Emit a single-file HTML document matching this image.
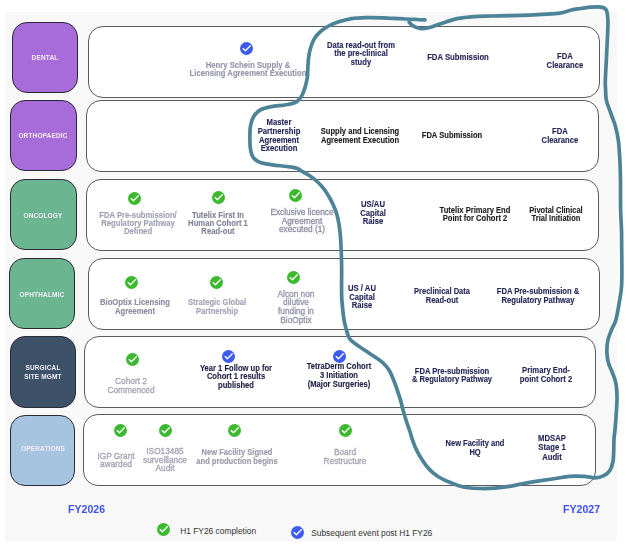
<!DOCTYPE html>
<html><head><meta charset="utf-8"><style>
html,body{margin:0;padding:0;background:#fff;width:631px;height:544px;overflow:hidden}
body{position:relative;font-family:"Liberation Sans", sans-serif}
.bg{position:absolute;left:4.5px;top:11.8px;width:612.5px;height:529.3px;background:#f8f8f8}
.cat{position:absolute;border:0.8px solid #2a2a35;border-radius:15px}
.catl{position:absolute;width:80px;text-align:center;color:#f4eef8;font-size:6.5px;font-weight:bold;letter-spacing:0.15px;white-space:nowrap;transform:scaleY(1.1);will-change:transform}
.box{position:absolute;background:#fff;border:1.5px solid #5a5a5a;border-radius:15px}
.t{position:absolute;width:160px;height:10px;line-height:10px;text-align:center;white-space:nowrap;transform:scaleY(1.15);transform-origin:50% 50%;will-change:transform;-webkit-text-stroke:0.12px currentColor}
.ck{position:absolute}
.fy{position:absolute;color:#3d52f0;font-weight:bold;font-size:10.6px;line-height:13px;white-space:nowrap;transform:scaleY(1.08);transform-origin:0 50%;will-change:transform}
.lg{position:absolute;color:#333;font-size:8.4px;line-height:10px;white-space:nowrap}
</style></head><body>
<div class="bg"></div>
<div class="cat" style="left:12.4px;top:21.8px;width:63.8px;height:69.1px;background:#a86bda"></div>
<div class="catl" style="left:5.1px;top:53.8px;line-height:7.5px">DENTAL</div>
<div class="cat" style="left:10.2px;top:100.2px;width:64.7px;height:68.8px;background:#a86bda"></div>
<div class="catl" style="left:3.4px;top:132.2px;line-height:7.5px">ORTHOPAEDIC</div>
<div class="cat" style="left:10.2px;top:179.2px;width:64.7px;height:68.8px;background:#6bb690"></div>
<div class="catl" style="left:3.4px;top:212.2px;line-height:7.5px">ONCOLOGY</div>
<div class="cat" style="left:8.6px;top:258.2px;width:64.3px;height:68.8px;background:#6bb690"></div>
<div class="catl" style="left:1.5px;top:290.6px;line-height:7.5px">OPHTHALMIC</div>
<div class="cat" style="left:10.3px;top:336.4px;width:63.5px;height:69.5px;background:#3d5269"></div>
<div class="catl" style="left:2.9px;top:364.0px;line-height:7.5px">SURGICAL<br>SITE MGMT</div>
<div class="cat" style="left:10.2px;top:415.2px;width:63.1px;height:69.2px;background:#a6c3e0"></div>
<div class="catl" style="left:2.6px;top:444.9px;line-height:7.5px">OPERATIONS</div>
<div class="box" style="left:87.5px;top:26.3px;width:510.6px;height:69.5px"></div>
<div class="box" style="left:86.0px;top:100.3px;width:510.8px;height:69.8px"></div>
<div class="box" style="left:86.0px;top:179.2px;width:510.8px;height:70.0px"></div>
<div class="box" style="left:88.0px;top:258.3px;width:510.1px;height:70.0px"></div>
<div class="box" style="left:83.6px;top:336.3px;width:510.7px;height:69.4px"></div>
<div class="box" style="left:83.3px;top:414.4px;width:511.2px;height:69.7px"></div>
<svg class="ck" style="left:239.50px;top:41.60px" width="13.0" height="13.0" viewBox="-6.5 -6.5 13 13"><circle r="6.5" fill="#3d5bf0"/><path d="M-3.3 0.1 L-1.1 2.3 L3.8 -2.7" fill="none" stroke="#fff" stroke-width="1.35" stroke-linecap="round" stroke-linejoin="round"/></svg>
<div class="t" style="left:168.0px;top:61px;color:#9696ac;font-weight:bold;font-size:7.7px;-webkit-text-stroke:0.14px currentColor">Henry Schein Supply &amp;</div>
<div class="t" style="left:168.0px;top:69px;color:#9696ac;font-weight:bold;font-size:7.7px;-webkit-text-stroke:0.14px currentColor">Licensing Agreement Execution</div>
<div class="t" style="left:280.8px;top:41px;color:#26285a;font-weight:bold;font-size:7.6px">Data read-out from</div>
<div class="t" style="left:280.8px;top:49px;color:#26285a;font-weight:bold;font-size:7.6px">the pre-clinical</div>
<div class="t" style="left:280.8px;top:58px;color:#26285a;font-weight:bold;font-size:7.6px">study</div>
<div class="t" style="left:378.0px;top:53px;color:#26285a;font-weight:bold;font-size:7.75px">FDA Submission</div>
<div class="t" style="left:484.8px;top:52px;color:#26285a;font-weight:bold;font-size:7.7px">FDA</div>
<div class="t" style="left:484.8px;top:61px;color:#26285a;font-weight:bold;font-size:7.7px">Clearance</div>
<div class="t" style="left:199.0px;top:118px;color:#26285a;font-weight:bold;font-size:7.7px">Master</div>
<div class="t" style="left:199.0px;top:127px;color:#26285a;font-weight:bold;font-size:7.7px">Partnership</div>
<div class="t" style="left:199.0px;top:136px;color:#26285a;font-weight:bold;font-size:7.7px">Agreement</div>
<div class="t" style="left:199.0px;top:144px;color:#26285a;font-weight:bold;font-size:7.7px">Execution</div>
<div class="t" style="left:279.5px;top:127px;color:#222226;font-weight:bold;font-size:7.6px">Supply and Licensing</div>
<div class="t" style="left:279.5px;top:136px;color:#222226;font-weight:bold;font-size:7.6px">Agreement Execution</div>
<div class="t" style="left:371.5px;top:131px;color:#222226;font-weight:bold;font-size:7.6px">FDA Submission</div>
<div class="t" style="left:479.8px;top:127px;color:#26285a;font-weight:bold;font-size:7.7px">FDA</div>
<div class="t" style="left:479.8px;top:136px;color:#26285a;font-weight:bold;font-size:7.7px">Clearance</div>
<svg class="ck" style="left:128.35px;top:191.80px" width="13.0" height="13.0" viewBox="-6.5 -6.5 13 13"><circle r="6.5" fill="#3cb92f"/><path d="M-3.3 0.1 L-1.1 2.3 L3.8 -2.7" fill="none" stroke="#fff" stroke-width="1.35" stroke-linecap="round" stroke-linejoin="round"/></svg>
<div class="t" style="left:57.7px;top:211px;color:#a2a2b6;font-weight:bold;font-size:7.7px;-webkit-text-stroke:0.14px currentColor">FDA Pre-submission/</div>
<div class="t" style="left:57.7px;top:219px;color:#a2a2b6;font-weight:bold;font-size:7.7px;-webkit-text-stroke:0.14px currentColor">Regulatory Pathway</div>
<div class="t" style="left:57.7px;top:227px;color:#a2a2b6;font-weight:bold;font-size:7.7px;-webkit-text-stroke:0.14px currentColor">Defined</div>
<svg class="ck" style="left:212.30px;top:191.40px" width="13.0" height="13.0" viewBox="-6.5 -6.5 13 13"><circle r="6.5" fill="#3cb92f"/><path d="M-3.3 0.1 L-1.1 2.3 L3.8 -2.7" fill="none" stroke="#fff" stroke-width="1.35" stroke-linecap="round" stroke-linejoin="round"/></svg>
<div class="t" style="left:138.0px;top:211px;color:#84849a;font-weight:bold;font-size:7.7px;-webkit-text-stroke:0.14px currentColor">Tutelix First In</div>
<div class="t" style="left:138.0px;top:219px;color:#84849a;font-weight:bold;font-size:7.7px;-webkit-text-stroke:0.14px currentColor">Human Cohort 1</div>
<div class="t" style="left:138.0px;top:227px;color:#84849a;font-weight:bold;font-size:7.7px;-webkit-text-stroke:0.14px currentColor">Read-out</div>
<svg class="ck" style="left:289.10px;top:188.80px" width="13.0" height="13.0" viewBox="-6.5 -6.5 13 13"><circle r="6.5" fill="#3cb92f"/><path d="M-3.3 0.1 L-1.1 2.3 L3.8 -2.7" fill="none" stroke="#fff" stroke-width="1.35" stroke-linecap="round" stroke-linejoin="round"/></svg>
<div class="t" style="left:221.5px;top:207px;color:#8e8ea4;font-weight:normal;font-size:8.3px;-webkit-text-stroke:0.3px currentColor">Exclusive licence</div>
<div class="t" style="left:221.5px;top:216px;color:#8e8ea4;font-weight:normal;font-size:8.3px;-webkit-text-stroke:0.3px currentColor">Agreement</div>
<div class="t" style="left:221.5px;top:224px;color:#8e8ea4;font-weight:normal;font-size:8.3px;-webkit-text-stroke:0.3px currentColor">executed (1)</div>
<div class="t" style="left:292.5px;top:200px;color:#26285a;font-weight:bold;font-size:7.7px">US/AU</div>
<div class="t" style="left:292.5px;top:209px;color:#26285a;font-weight:bold;font-size:7.7px">Capital</div>
<div class="t" style="left:292.5px;top:217px;color:#26285a;font-weight:bold;font-size:7.7px">Raise</div>
<div class="t" style="left:394.6px;top:206px;color:#222226;font-weight:bold;font-size:7.6px">Tutelix Primary End</div>
<div class="t" style="left:394.6px;top:214px;color:#222226;font-weight:bold;font-size:7.6px">Point for Cohort 2</div>
<div class="t" style="left:476.2px;top:206px;color:#222226;font-weight:bold;font-size:7.5px">Pivotal Clinical</div>
<div class="t" style="left:476.2px;top:214px;color:#222226;font-weight:bold;font-size:7.5px">Trial Initiation</div>
<svg class="ck" style="left:125.30px;top:276.40px" width="13.0" height="13.0" viewBox="-6.5 -6.5 13 13"><circle r="6.5" fill="#3cb92f"/><path d="M-3.3 0.1 L-1.1 2.3 L3.8 -2.7" fill="none" stroke="#fff" stroke-width="1.35" stroke-linecap="round" stroke-linejoin="round"/></svg>
<div class="t" style="left:54.9px;top:298px;color:#8c8ca2;font-weight:bold;font-size:7.7px;-webkit-text-stroke:0.14px currentColor">BioOptix Licensing</div>
<div class="t" style="left:54.9px;top:307px;color:#8c8ca2;font-weight:bold;font-size:7.7px;-webkit-text-stroke:0.14px currentColor">Agreement</div>
<svg class="ck" style="left:209.50px;top:276.40px" width="13.0" height="13.0" viewBox="-6.5 -6.5 13 13"><circle r="6.5" fill="#3cb92f"/><path d="M-3.3 0.1 L-1.1 2.3 L3.8 -2.7" fill="none" stroke="#fff" stroke-width="1.35" stroke-linecap="round" stroke-linejoin="round"/></svg>
<div class="t" style="left:137.3px;top:298px;color:#a4a4b8;font-weight:bold;font-size:7.6px;-webkit-text-stroke:0.14px currentColor">Strategic Global</div>
<div class="t" style="left:137.3px;top:307px;color:#a4a4b8;font-weight:bold;font-size:7.6px;-webkit-text-stroke:0.14px currentColor">Partnership</div>
<svg class="ck" style="left:286.60px;top:271.40px" width="13.0" height="13.0" viewBox="-6.5 -6.5 13 13"><circle r="6.5" fill="#3cb92f"/><path d="M-3.3 0.1 L-1.1 2.3 L3.8 -2.7" fill="none" stroke="#fff" stroke-width="1.35" stroke-linecap="round" stroke-linejoin="round"/></svg>
<div class="t" style="left:216.4px;top:289px;color:#9494aa;font-weight:normal;font-size:8.3px;-webkit-text-stroke:0.3px currentColor">Alcon non</div>
<div class="t" style="left:216.4px;top:297px;color:#9494aa;font-weight:normal;font-size:8.3px;-webkit-text-stroke:0.3px currentColor">dilutive</div>
<div class="t" style="left:216.4px;top:306px;color:#9494aa;font-weight:normal;font-size:8.3px;-webkit-text-stroke:0.3px currentColor">funding in</div>
<div class="t" style="left:216.4px;top:315px;color:#9494aa;font-weight:normal;font-size:8.3px;-webkit-text-stroke:0.3px currentColor">BioOptix</div>
<div class="t" style="left:281.6px;top:284px;color:#26285a;font-weight:bold;font-size:7.7px">US / AU</div>
<div class="t" style="left:281.6px;top:293px;color:#26285a;font-weight:bold;font-size:7.7px">Capital</div>
<div class="t" style="left:281.6px;top:301px;color:#26285a;font-weight:bold;font-size:7.7px">Raise</div>
<div class="t" style="left:362.0px;top:287px;color:#26285a;font-weight:bold;font-size:7.5px">Preclinical Data</div>
<div class="t" style="left:362.0px;top:296px;color:#26285a;font-weight:bold;font-size:7.5px">Read-out</div>
<div class="t" style="left:457.9px;top:287px;color:#26285a;font-weight:bold;font-size:7.65px">FDA Pre-submission &amp;</div>
<div class="t" style="left:457.9px;top:296px;color:#26285a;font-weight:bold;font-size:7.65px">Regulatory Pathway</div>
<svg class="ck" style="left:126.10px;top:353.20px" width="13.0" height="13.0" viewBox="-6.5 -6.5 13 13"><circle r="6.5" fill="#3cb92f"/><path d="M-3.3 0.1 L-1.1 2.3 L3.8 -2.7" fill="none" stroke="#fff" stroke-width="1.35" stroke-linecap="round" stroke-linejoin="round"/></svg>
<div class="t" style="left:51.3px;top:376px;color:#a6a6b6;font-weight:normal;font-size:8.3px;-webkit-text-stroke:0.3px currentColor">Cohort 2</div>
<div class="t" style="left:51.3px;top:385px;color:#a6a6b6;font-weight:normal;font-size:8.3px;-webkit-text-stroke:0.3px currentColor">Commenced</div>
<svg class="ck" style="left:221.50px;top:350.10px" width="13.0" height="13.0" viewBox="-6.5 -6.5 13 13"><circle r="6.5" fill="#3d5bf0"/><path d="M-3.3 0.1 L-1.1 2.3 L3.8 -2.7" fill="none" stroke="#fff" stroke-width="1.35" stroke-linecap="round" stroke-linejoin="round"/></svg>
<div class="t" style="left:156.0px;top:364px;color:#1f2045;font-weight:bold;font-size:7.6px">Year 1 Follow up for</div>
<div class="t" style="left:156.0px;top:372px;color:#1f2045;font-weight:bold;font-size:7.6px">Cohort 1 results</div>
<div class="t" style="left:156.0px;top:381px;color:#1f2045;font-weight:bold;font-size:7.6px">published</div>
<svg class="ck" style="left:333.00px;top:349.90px" width="13.0" height="13.0" viewBox="-6.5 -6.5 13 13"><circle r="6.5" fill="#3d5bf0"/><path d="M-3.3 0.1 L-1.1 2.3 L3.8 -2.7" fill="none" stroke="#fff" stroke-width="1.35" stroke-linecap="round" stroke-linejoin="round"/></svg>
<div class="t" style="left:258.6px;top:362px;color:#1f2045;font-weight:bold;font-size:7.6px">TetraDerm Cohort</div>
<div class="t" style="left:258.6px;top:371px;color:#1f2045;font-weight:bold;font-size:7.6px">3 Initiation</div>
<div class="t" style="left:258.6px;top:380px;color:#1f2045;font-weight:bold;font-size:7.6px">(Major Surgeries)</div>
<div class="t" style="left:372.0px;top:367px;color:#26285a;font-weight:bold;font-size:7.6px">FDA Pre-submission</div>
<div class="t" style="left:372.0px;top:375px;color:#26285a;font-weight:bold;font-size:7.6px">&amp; Regulatory Pathway</div>
<div class="t" style="left:465.8px;top:366px;color:#26285a;font-weight:bold;font-size:7.7px">Primary End-</div>
<div class="t" style="left:465.8px;top:375px;color:#26285a;font-weight:bold;font-size:7.7px">point Cohort 2</div>
<svg class="ck" style="left:114.00px;top:423.90px" width="13.0" height="13.0" viewBox="-6.5 -6.5 13 13"><circle r="6.5" fill="#3cb92f"/><path d="M-3.3 0.1 L-1.1 2.3 L3.8 -2.7" fill="none" stroke="#fff" stroke-width="1.35" stroke-linecap="round" stroke-linejoin="round"/></svg>
<div class="t" style="left:36.0px;top:451px;color:#a4a4b6;font-weight:normal;font-size:8.3px;-webkit-text-stroke:0.3px currentColor">IGP Grant</div>
<div class="t" style="left:36.0px;top:459px;color:#a4a4b6;font-weight:normal;font-size:8.3px;-webkit-text-stroke:0.3px currentColor">awarded</div>
<svg class="ck" style="left:158.90px;top:423.90px" width="13.0" height="13.0" viewBox="-6.5 -6.5 13 13"><circle r="6.5" fill="#3cb92f"/><path d="M-3.3 0.1 L-1.1 2.3 L3.8 -2.7" fill="none" stroke="#fff" stroke-width="1.35" stroke-linecap="round" stroke-linejoin="round"/></svg>
<div class="t" style="left:84.9px;top:446px;color:#a4a4b6;font-weight:normal;font-size:8.3px;-webkit-text-stroke:0.3px currentColor">ISO13485</div>
<div class="t" style="left:84.9px;top:455px;color:#a4a4b6;font-weight:normal;font-size:8.3px;-webkit-text-stroke:0.3px currentColor">surveillance</div>
<div class="t" style="left:84.9px;top:463px;color:#a4a4b6;font-weight:normal;font-size:8.3px;-webkit-text-stroke:0.3px currentColor">Audit</div>
<svg class="ck" style="left:227.50px;top:424.10px" width="13.0" height="13.0" viewBox="-6.5 -6.5 13 13"><circle r="6.5" fill="#3cb92f"/><path d="M-3.3 0.1 L-1.1 2.3 L3.8 -2.7" fill="none" stroke="#fff" stroke-width="1.35" stroke-linecap="round" stroke-linejoin="round"/></svg>
<div class="t" style="left:157.0px;top:448px;color:#9a9aac;font-weight:bold;font-size:7.55px;-webkit-text-stroke:0.14px currentColor">New Facility Signed</div>
<div class="t" style="left:157.0px;top:457px;color:#9a9aac;font-weight:bold;font-size:7.55px;-webkit-text-stroke:0.14px currentColor">and production begins</div>
<svg class="ck" style="left:339.10px;top:424.20px" width="13.0" height="13.0" viewBox="-6.5 -6.5 13 13"><circle r="6.5" fill="#3cb92f"/><path d="M-3.3 0.1 L-1.1 2.3 L3.8 -2.7" fill="none" stroke="#fff" stroke-width="1.35" stroke-linecap="round" stroke-linejoin="round"/></svg>
<div class="t" style="left:265.0px;top:447px;color:#a4a4b6;font-weight:normal;font-size:8.3px;-webkit-text-stroke:0.3px currentColor">Board</div>
<div class="t" style="left:265.0px;top:456px;color:#a4a4b6;font-weight:normal;font-size:8.3px;-webkit-text-stroke:0.3px currentColor">Restructure</div>
<div class="t" style="left:395.0px;top:439px;color:#26285a;font-weight:bold;font-size:7.5px">New Facility and</div>
<div class="t" style="left:395.0px;top:448px;color:#26285a;font-weight:bold;font-size:7.5px">HQ</div>
<div class="t" style="left:471.8px;top:434px;color:#26285a;font-weight:bold;font-size:7.7px">MDSAP</div>
<div class="t" style="left:471.8px;top:443px;color:#26285a;font-weight:bold;font-size:7.7px">Stage 1</div>
<div class="t" style="left:471.8px;top:453px;color:#26285a;font-weight:bold;font-size:7.7px">Audit</div>
<div class="fy" style="left:68.2px;top:503px">FY2026</div>
<div class="fy" style="left:563px;top:503px">FY2027</div>
<svg class="ck" style="left:156.90px;top:523.10px" width="13.0" height="13.0" viewBox="-6.5 -6.5 13 13"><circle r="6.5" fill="#3cb92f"/><path d="M-3.3 0.1 L-1.1 2.3 L3.8 -2.7" fill="none" stroke="#fff" stroke-width="1.35" stroke-linecap="round" stroke-linejoin="round"/></svg>
<div class="lg" style="left:180.2px;top:526px">H1 FY26 completion</div>
<svg class="ck" style="left:291.10px;top:525.50px" width="13.0" height="13.0" viewBox="-6.5 -6.5 13 13"><circle r="6.5" fill="#3d5bf0"/><path d="M-3.3 0.1 L-1.1 2.3 L3.8 -2.7" fill="none" stroke="#fff" stroke-width="1.35" stroke-linecap="round" stroke-linejoin="round"/></svg>
<div class="lg" style="left:311.2px;top:527.5px">Subsequent event post H1 FY26</div>
<svg style="position:absolute;left:0;top:0" width="631" height="544"><path d="M425.0 19.8 C423.7 19.8 421.2 19.7 417.0 19.5 C412.8 19.3 405.6 19.0 399.9 18.7 C394.2 18.4 388.5 18.0 382.8 17.8 C377.1 17.6 370.9 17.5 365.7 17.6 C360.5 17.7 355.8 17.9 351.4 18.6 C347.0 19.3 343.4 20.4 339.6 21.6 C335.8 22.8 331.9 24.2 328.6 26.0 C325.3 27.8 322.3 29.8 319.8 32.1 C317.3 34.4 315.3 37.0 313.7 39.8 C312.1 42.5 311.3 45.5 310.4 48.6 C309.5 51.7 308.9 55.1 308.5 58.5 C308.1 61.9 308.0 65.6 307.8 68.8 C307.6 72.0 307.7 74.6 307.3 77.6 C306.9 80.5 306.2 83.5 305.3 86.5 C304.4 89.5 303.5 92.7 302.0 95.3 C300.5 97.9 299.2 100.3 296.5 101.9 C293.8 103.5 290.2 104.0 286.0 104.8 C281.8 105.6 275.7 105.8 271.4 106.6 C267.1 107.4 263.3 108.2 260.4 109.9 C257.4 111.6 255.4 113.7 253.7 116.5 C252.0 119.3 251.0 123.0 250.4 126.5 C249.8 130.0 249.9 133.8 249.9 137.5 C249.9 141.2 249.9 145.2 250.4 148.5 C250.9 151.8 251.5 155.1 253.2 157.4 C254.9 159.8 257.2 161.3 260.4 162.6 C263.6 163.8 268.2 164.2 272.6 164.9 C277.0 165.6 282.9 165.9 286.9 166.5 C290.9 167.1 294.4 167.4 296.8 168.2 C299.2 169.0 299.5 169.9 301.6 171.1 C303.7 172.3 306.7 173.8 309.3 175.5 C311.9 177.2 314.7 179.3 317.1 181.5 C319.5 183.7 321.7 186.1 323.7 188.7 C325.7 191.3 327.5 194.2 329.2 197.0 C330.9 199.8 332.3 202.9 333.6 205.8 C334.9 208.7 336.0 211.4 336.9 214.6 C337.8 217.8 338.5 221.4 339.1 225.0 C339.7 228.6 340.0 231.3 340.4 236.0 C340.8 240.7 341.1 248.0 341.3 253.1 C341.5 258.1 341.6 261.8 341.6 266.3 C341.7 270.8 341.6 274.9 341.6 280.0 C341.6 285.1 341.5 292.4 341.7 297.1 C341.9 301.8 342.2 304.4 342.6 308.1 C343.0 311.8 343.3 315.8 343.9 319.1 C344.4 322.4 345.0 324.7 345.9 327.9 C346.8 331.1 347.6 335.5 349.3 338.2 C351.0 340.9 353.4 342.2 356.0 344.2 C358.6 346.2 361.7 348.1 364.8 350.2 C367.9 352.3 371.7 354.7 374.7 356.8 C377.7 358.9 380.6 360.6 383.0 362.8 C385.4 365.0 387.2 367.0 389.0 370.0 C390.8 373.0 392.5 377.2 394.0 381.0 C395.5 384.8 397.0 389.2 398.1 392.6 C399.2 396.0 400.1 398.6 400.9 401.5 C401.7 404.4 402.2 407.0 403.1 410.3 C404.0 413.6 405.3 417.9 406.4 421.3 C407.5 424.8 408.9 428.1 409.8 431.0 C410.8 433.9 411.0 435.7 412.1 438.8 C413.2 441.9 414.8 446.4 416.5 449.9 C418.2 453.4 420.1 456.7 422.1 459.8 C424.1 462.9 426.1 465.9 428.7 468.6 C431.3 471.4 434.2 474.1 437.5 476.3 C440.8 478.5 445.1 480.3 448.5 481.8 C451.9 483.3 455.0 484.4 458.0 485.4 C461.0 486.3 462.6 487.0 466.4 487.5 C470.2 488.0 475.9 488.4 480.7 488.5 C485.4 488.6 490.1 488.5 494.9 488.1 C499.6 487.8 504.4 487.2 509.2 486.4 C514.0 485.6 518.2 484.5 523.5 483.5 C528.8 482.5 535.7 481.4 541.0 480.6 C546.3 479.8 550.5 479.2 555.3 478.5 C560.0 477.8 564.8 476.8 569.5 476.4 C574.2 476.0 579.5 476.2 583.8 476.4 C588.1 476.6 591.9 477.9 595.2 477.8 C598.5 477.7 601.3 476.9 603.8 475.6 C606.3 474.3 608.7 472.3 610.2 469.9 C611.7 467.5 612.4 464.5 613.0 461.4 C613.6 458.3 613.5 455.2 613.7 451.4 C613.9 447.6 613.8 442.2 614.0 438.6 C614.2 435.0 614.6 434.6 615.0 430.0 C615.4 425.4 616.1 416.6 616.4 411.1 C616.7 405.6 617.1 401.6 617.0 396.9 C616.9 392.2 616.6 386.9 615.8 382.8 C615.0 378.8 613.6 376.0 612.4 372.6 C611.1 369.2 609.2 365.9 608.3 362.5 C607.4 359.1 607.0 356.1 606.9 352.4 C606.8 348.7 607.1 343.9 607.9 340.2 C608.6 336.5 610.1 333.5 611.4 330.1 C612.7 326.7 614.5 324.8 615.9 320.0 C617.2 315.2 618.6 306.6 619.5 301.1 C620.4 295.6 621.1 292.0 621.5 286.9 C621.9 281.8 621.9 276.8 621.9 270.7 C621.9 264.6 621.8 257.2 621.7 250.5 C621.6 243.8 621.7 236.9 621.5 230.2 C621.3 223.4 620.8 218.2 620.6 210.0 C620.4 201.8 620.6 189.2 620.5 181.0 C620.4 172.8 620.2 167.4 619.9 160.7 C619.5 153.9 619.1 146.2 618.4 140.5 C617.6 134.8 616.7 131.0 615.4 126.3 C614.1 121.6 611.9 116.5 610.4 112.1 C608.9 107.7 607.1 104.0 606.3 100.0 C605.5 96.0 605.7 91.2 605.5 88.0 C605.3 84.8 605.2 85.5 605.3 81.0 C605.4 76.5 606.0 67.5 606.3 60.7 C606.6 54.0 607.0 47.2 607.3 40.5 C607.6 33.8 608.1 25.3 607.9 20.2 C607.7 15.1 607.4 12.3 606.3 10.1 C605.2 7.9 603.7 7.6 601.2 7.1 C598.7 6.6 594.5 6.9 591.1 7.1 C587.7 7.3 584.3 8.0 581.0 8.5 C577.7 9.0 574.8 9.2 571.3 10.0 C567.8 10.8 564.6 12.4 559.9 13.1 C555.1 13.8 548.0 14.0 542.8 14.3 C537.6 14.7 534.0 15.0 528.5 15.2 C523.0 15.4 516.1 15.5 510.0 15.6 C503.9 15.7 498.0 15.8 492.0 16.0 C486.0 16.2 480.0 16.2 474.2 16.6 C468.4 17.0 462.6 17.5 457.1 18.6 C451.6 19.8 446.1 22.0 441.4 23.5 C436.6 25.0 432.2 27.0 428.6 27.8 C425.0 28.6 422.5 28.9 419.9 28.5 C417.2 28.1 414.5 26.8 412.7 25.7 C410.9 24.6 409.8 22.7 409.2 22.1" fill="none" stroke="#4d8397" stroke-width="3.7" stroke-linecap="round" stroke-linejoin="round"/></svg>
</body></html>
